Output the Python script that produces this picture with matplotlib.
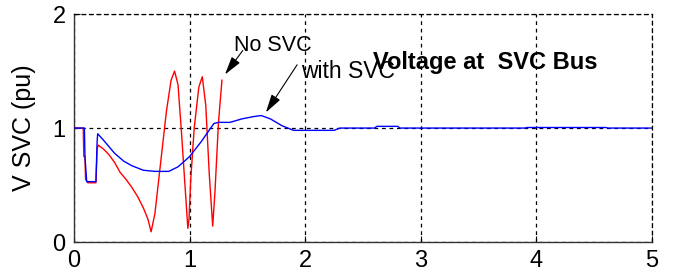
import matplotlib
matplotlib.use("Agg")
import matplotlib.pyplot as plt

# No SVC (red)
t_nosvc = [0.0, 0.08, 0.085, 0.095, 0.10, 0.12, 0.19, 0.20, 0.21, 0.25, 0.30, 0.35, 0.40, 0.45, 0.50, 0.55, 0.60,
           0.64, 0.667, 0.70, 0.75, 0.80, 0.84, 0.87, 0.90, 0.93, 0.96, 0.985, 0.995, 1.01, 1.04, 1.08, 1.11,
           1.14, 1.17, 1.20, 1.22, 1.25, 1.28]
v_nosvc = [1.0, 1.0, 0.75, 0.75, 0.55, 0.52, 0.52, 0.82, 0.85, 0.82, 0.77, 0.70, 0.61, 0.55, 0.48, 0.40, 0.30,
           0.20, 0.09, 0.25, 0.70, 1.15, 1.42, 1.50, 1.38, 0.96, 0.50, 0.12, 0.20, 0.55, 1.00, 1.36, 1.45,
           1.20, 0.60, 0.14, 0.45, 1.05, 1.42]

# With SVC (blue)
t_svc = [0.0, 0.09, 0.095, 0.11, 0.19, 0.20, 0.205, 0.25, 0.30, 0.35, 0.43, 0.50, 0.60, 0.70, 0.82, 0.90, 1.00,
         1.10, 1.21, 1.25, 1.35, 1.45, 1.55, 1.62, 1.70, 1.80, 1.90, 2.25, 2.30, 2.60, 2.62, 2.80, 2.82, 3.10,
         3.90, 3.92, 4.60, 4.62, 5.0]
v_svc = [1.0, 1.0, 0.75, 0.53, 0.53, 0.88, 0.95, 0.90, 0.84, 0.78, 0.71, 0.67, 0.63, 0.62, 0.62, 0.66, 0.75,
         0.88, 1.04, 1.05, 1.05, 1.08, 1.10, 1.11, 1.08, 1.02, 0.98, 0.98, 1.0, 1.0, 1.015, 1.015, 1.0, 1.0,
         1.0, 1.005, 1.005, 1.0, 1.0]

x_ticks = [0, 1, 2, 3, 4, 5]
y_ticks = [0, 1, 2]

plt.rcParams['font.family'] = ['Liberation Sans', 'DejaVu Sans']

fig = plt.figure(figsize=(6.8, 2.76), dpi=100)
ax = fig.add_axes([0.1088, 0.123, 0.85, 0.826])

ax.plot(t_nosvc, v_nosvc, color='#ff0000', lw=1.0, zorder=3)
ax.plot(t_svc, v_svc, color='#0000ff', lw=1.0, zorder=4)

ax.set_xlim(0, 5)
ax.set_ylim(0, 2)
ax.set_xticks(x_ticks)
ax.set_yticks(y_ticks)
ax.tick_params(direction='in', length=4, labelsize=17, pad=6, colors='black')
ax.grid(True, color='black', linestyle=(0, (3, 3)), linewidth=0.9)

for s in ['top', 'right']:
    ax.spines[s].set_linestyle((0, (3, 3)))
    ax.spines[s].set_linewidth(0.9)
for s in ['left', 'bottom']:
    ax.spines[s].set_linewidth(1.0)
    ax.spines[s].set_color('#333333')

ax.set_ylabel('V SVC (pu)', fontsize=18, labelpad=12)

arrow_kw = dict(arrowstyle='-|>,head_length=0.8,head_width=0.22', color='black', lw=0.8,
                mutation_scale=14, shrinkA=0, shrinkB=0)
ax.text(1.385, 1.72, 'No SVC', fontsize=15.5, ha='left', va='center')
ax.annotate('', xy=(1.306, 1.47), xytext=(1.46, 1.68), arrowprops=arrow_kw)
ax.text(1.96, 1.50, 'with SVC', fontsize=16.5, ha='left', va='center')
ax.annotate('', xy=(1.66, 1.137), xytext=(1.93, 1.555), arrowprops=arrow_kw)
ax.text(2.59, 1.575, 'Voltage at  SVC Bus', fontsize=17, fontweight='bold', ha='left', va='center')

fig.savefig('out.png', dpi=100)
